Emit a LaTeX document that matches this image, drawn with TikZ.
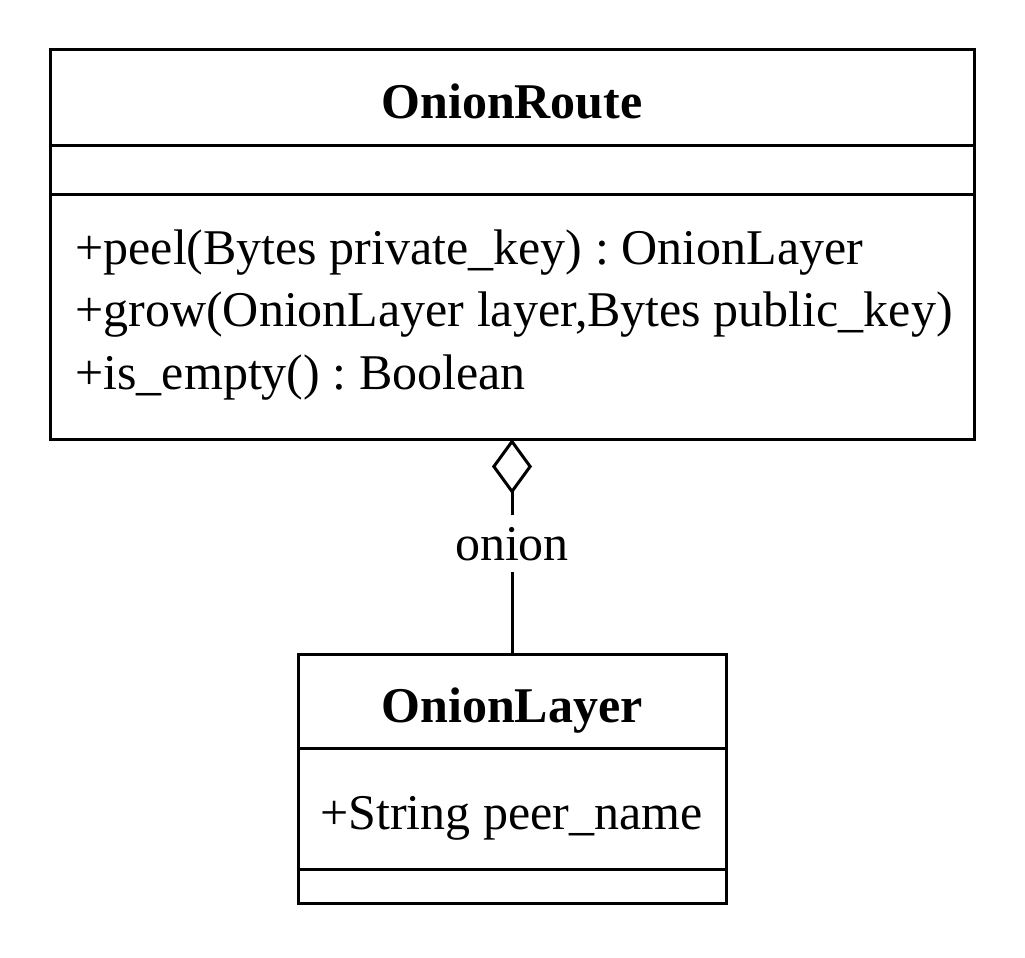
\documentclass[tikz,border=0pt]{standalone}
\usepackage{fontspec}
\setmainfont{Liberation Serif}
\frenchspacing
\usetikzlibrary{arrows.meta,positioning}
\tikzset{
classbox/.style={rectangle, draw=black, line width=1.5pt, inner sep=0pt, outer sep=0pt},
member/.style={anchor=base west, inner sep=0pt, font=\fontsize{25}{30}\selectfont},
classname/.style={anchor=base, inner sep=0pt, font=\fontsize{25}{30}\selectfont\bfseries},
rolename/.style={anchor=base, inner sep=5.5pt, font=\fontsize{25}{30}\selectfont},
sepline/.style={line width=1.5pt},
aggr/.style={-{Diamond[open,length=27.5pt,width=20pt]}, line width=1.5pt},
}
\begin{document}
\begin{tikzpicture}[x=0.5pt,y=-0.5pt]
    \useasboundingbox (0,0) rectangle (1025,958);

    \node[classbox, minimum width=462pt, minimum height=195pt] (ROUTE) at (512,244) {};
    \node[classbox, minimum width=214pt, minimum height=124.5pt] (LAYER) at (512,778.5) {};

    \node[classname] (ROUTE_NAME) at (512,119) {OnionRoute};
    \node[member] (PEEL) at (75,264) {+peel(Bytes private\_key) : OnionLayer};
    \node[member] (GROW) at (75,326) {+grow(OnionLayer layer,Bytes public\_key)};
    \node[member] (EMPTY) at (75,389) {+is\_empty() : Boolean};

    \node[classname] (LAYER_NAME) at (512,722) {OnionLayer};
    \node[member] (PEER) at (320,829) {+String peer\_name};

    \draw[sepline] (ROUTE.west |- 0,145) -- (ROUTE.east |- 0,145);
    \draw[sepline] (ROUTE.west |- 0,194) -- (ROUTE.east |- 0,194);
    \draw[sepline] (LAYER.west |- 0,748) -- (LAYER.east |- 0,748);
    \draw[sepline] (LAYER.west |- 0,869) -- (LAYER.east |- 0,869);

    \node[rolename] (ONION) at (512,560) {onion};

    \draw[sepline] (LAYER.north) -- (ONION.south);
    \draw[aggr] (ONION.north) -- (ROUTE.south);
\end{tikzpicture}
\end{document}
